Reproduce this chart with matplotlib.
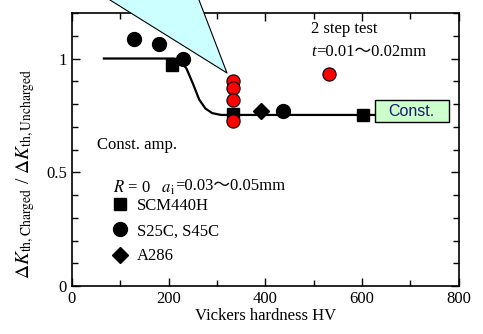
import matplotlib
matplotlib.use("Agg")
import matplotlib.pyplot as plt
from matplotlib.patches import Polygon, Rectangle
from matplotlib.lines import Line2D
from matplotlib.ticker import MultipleLocator, FixedLocator, FixedFormatter

plt.rcParams['font.family'] = ['Liberation Serif', 'Noto Sans CJK JP']
plt.rcParams['mathtext.fontset'] = 'stix'

# data
scm_hv = [207, 333, 601]
scm_ratio = [0.97, 0.758, 0.75]
s45c_hv = [128, 180, 229, 436]
s45c_ratio = [1.084, 1.066, 1.0, 0.771]
a286_hv = [391]
a286_ratio = [0.77]
step_hv = [333, 333, 333, 333, 531]
step_ratio = [0.899, 0.872, 0.819, 0.727, 0.93]

curve_hv = [66, 212, 225, 237, 250, 263, 276, 290, 308, 626]
curve_ratio = [1.0, 1.0, 0.99, 0.955, 0.89, 0.82, 0.78, 0.76, 0.752, 0.752]

fig = plt.figure(figsize=(4.83, 3.34), dpi=100)
ax = fig.add_axes([0.149, 0.1437, 0.801, 0.8173])

ax.plot(curve_hv, curve_ratio, color='black', lw=1.6, zorder=2, clip_on=False)
ax.plot(scm_hv, scm_ratio, 's', color='black', ms=8, zorder=3)
ax.plot(s45c_hv, s45c_ratio, 'o', color='black', ms=10, zorder=3)
ax.plot(a286_hv, a286_ratio, 'D', color='black', ms=8, zorder=3)
ax.plot(step_hv, step_ratio, 'o', mfc='red', mec='black', mew=0.8, ms=9.5, zorder=4)

ax.set_xlim(0, 800)
ax.set_ylim(0, 1.2)
ax.xaxis.set_major_locator(MultipleLocator(200))
ax.xaxis.set_minor_locator(MultipleLocator(100))
ax.yaxis.set_major_locator(FixedLocator([0, 0.5, 1]))
ax.yaxis.set_major_formatter(FixedFormatter(['0', '0.5', '1']))
ax.yaxis.set_minor_locator(MultipleLocator(0.1))
ax.tick_params(which='both', direction='in', top=True, right=True, labelsize=12)
ax.tick_params(which='major', length=6, width=1)
ax.tick_params(which='minor', length=4, width=1)
for s in ax.spines.values():
    s.set_linewidth(1.2)

ax.set_xlabel('Vickers hardness HV', fontsize=12, labelpad=1)
ax.set_ylabel(r'$\Delta K_{\mathrm{th,Charged}}$ / $\Delta K_{\mathrm{th,Uncharged}}$',
              fontsize=14)
ax.yaxis.set_label_coords(-0.09, 0.41)

ax.text(495, 1.128, '2 step test', fontsize=12, va='center')
t1 = ax.text(495, 1.03, 't', fontsize=12, va='center', style='italic')
ax.annotate('=0.01〜0.02mm', xy=(1, 0.5), xycoords=t1, fontsize=12, va='center')
ax.text(52, 0.621, 'Const. amp.', fontsize=12, va='center')
t2 = ax.text(85, 0.432, r'$R$ = 0   $a_{\mathrm{i}}$', fontsize=12, va='center')
ax.annotate('=0.03〜0.05mm', xy=(1, 0.62), xycoords=t2, fontsize=12, va='center')

handles = [Line2D([], [], ls='none', marker='s', color='black', ms=8),
           Line2D([], [], ls='none', marker='o', color='black', ms=10),
           Line2D([], [], ls='none', marker='D', color='black', ms=8)]
ax.legend(handles, ['SCM440H', 'S25C, S45C', 'A286'], loc='upper left',
          bbox_to_anchor=(0.065, 0.377), frameon=False, fontsize=12,
          handlelength=1.0, handletextpad=0.5, labelspacing=0.55)

# callout balloon coming from above
tri = Polygon([(110 / 483, 1.05), (110 / 483, 1.0), (227 / 483, 1 - 73 / 334),
               (199 / 483, 1.0), (199 / 483, 1.05)],
              closed=True, transform=fig.transFigure, facecolor='#ccffff',
              edgecolor='none', zorder=5)
fig.patches.append(tri)
fig.lines.append(Line2D([110 / 483, 227 / 483, 199 / 483], [1.0, 1 - 73 / 334, 1.0],
                        transform=fig.transFigure, color='black', lw=0.8, zorder=6))

ax.add_patch(Rectangle((0.783, 0.601), 0.191, 0.080, transform=ax.transAxes,
                       facecolor='#ccffcc', edgecolor='black', lw=1,
                       clip_on=False, zorder=6))
ax.text(0.878, 0.641, 'Const.', transform=ax.transAxes, fontsize=11.5,
        family='Liberation Sans', color='#1a1a70', va='center', ha='center',
        zorder=7)

fig.savefig('out.png', dpi=100)
